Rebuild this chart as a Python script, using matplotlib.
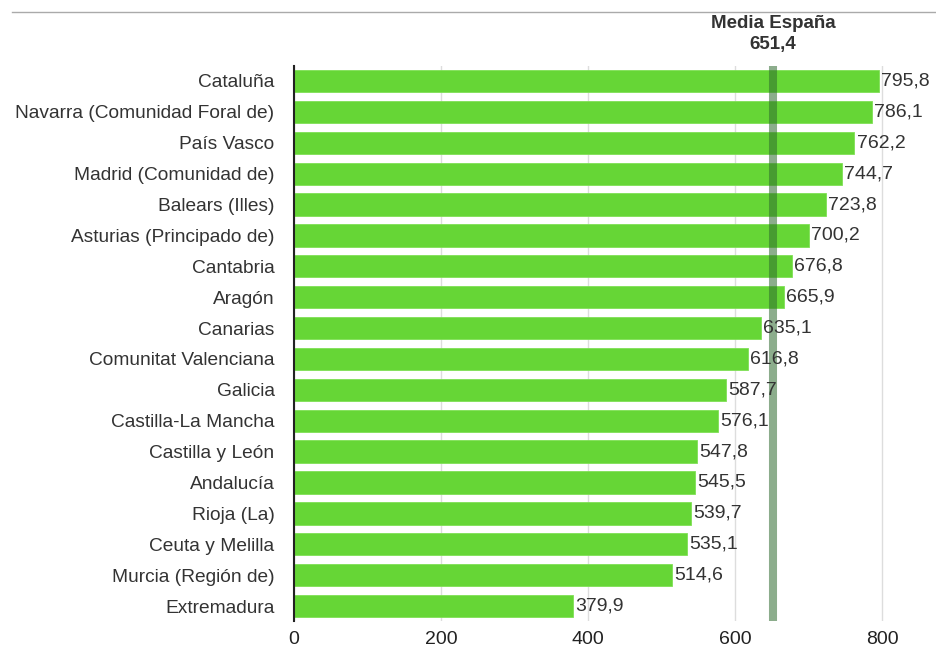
import matplotlib.pyplot as plt
import numpy as np

plt.rcParams['font.family'] = ['Liberation Sans', 'DejaVu Sans']

regiones = ['Cataluña', 'Navarra (Comunidad Foral de)', 'País Vasco', 'Madrid (Comunidad de)',
            'Balears (Illes)', 'Asturias (Principado de)', 'Cantabria', 'Aragón', 'Canarias',
            'Comunitat Valenciana', 'Galicia', 'Castilla-La Mancha', 'Castilla y León',
            'Andalucía', 'Rioja (La)', 'Ceuta y Melilla', 'Murcia (Región de)', 'Extremadura']
valores = [795.8, 786.1, 762.2, 744.7, 723.8, 700.2, 676.8, 665.9, 635.1,
           616.8, 587.7, 576.1, 547.8, 545.5, 539.7, 535.1, 514.6, 379.9]
media = 651.4
ticks = [0, 200, 400, 600, 800]

fig = plt.figure(figsize=(9.37, 6.49), dpi=100)
ax = fig.add_axes([0.3138, 0.0424, 0.667, 0.8566])

y = np.arange(len(regiones))
ax.barh(y, valores, height=0.72, color='#66d636', edgecolor='#7fe055', linewidth=0.6, zorder=2)
for yi, v in zip(y, valores):
    ax.text(v + 3, yi, f'{v:.1f}'.replace('.', ','), va='center', ha='left',
            fontsize=14, color='#333333', zorder=4)

ax.axvline(media, color='#2e6b2e', alpha=0.55, lw=5.8, zorder=3)
ax.text(media, 1.022, 'Media España\n' + f'{media:.1f}'.replace('.', ','),
        transform=ax.get_xaxis_transform(), ha='center', va='bottom',
        fontsize=13.5, fontweight='bold', color='#333333', linespacing=1.3)

ax.set_ylim(len(regiones) - 0.5, -0.5)
ax.set_xlim(0, 850)
ax.set_yticks(y)
ax.set_yticklabels(regiones, fontsize=13.8, color='#333333')
ax.set_xticks(ticks)
ax.set_xticklabels([str(t) for t in ticks], fontsize=14, color='#222222')
ax.tick_params(axis='both', length=0)
ax.tick_params(axis='y', pad=14)
ax.tick_params(axis='x', pad=7)
ax.xaxis.grid(True, color='#dddddd', lw=1, zorder=0)
ax.set_axisbelow(True)
for s in ['top', 'right', 'bottom']:
    ax.spines[s].set_visible(False)
ax.spines['left'].set_color('#222222')
ax.spines['left'].set_linewidth(1.5)
ax.spines['left'].set_zorder(5)

fig.add_artist(plt.Line2D([12 / 937, 1], [1 - 12 / 649, 1 - 12 / 649],
                          color='#aaaaaa', lw=1, transform=fig.transFigure))

fig.savefig('out.png', dpi=100)
